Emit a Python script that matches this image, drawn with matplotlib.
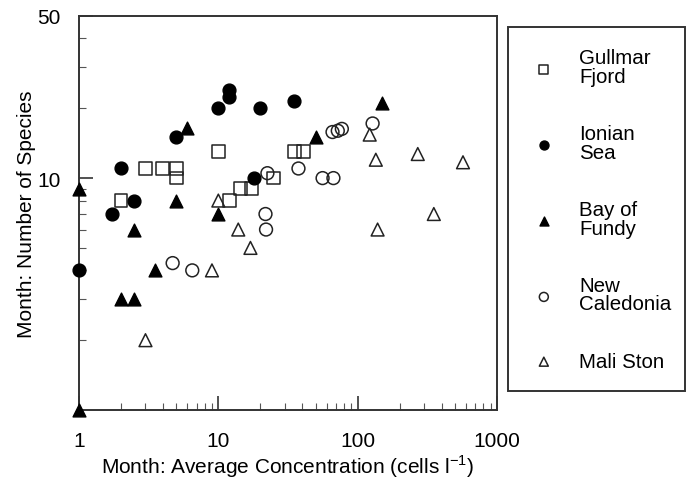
import matplotlib
matplotlib.use("Agg")
from matplotlib import pyplot as plt
from matplotlib.patches import Rectangle
from matplotlib.ticker import FixedLocator, NullFormatter

plt.rcParams['font.family'] = ['Liberation Sans', 'DejaVu Sans']

# Gullmar Fjord (open squares)
gullmar_x = [2, 3, 4, 5, 5, 10, 12, 14.4, 17.3, 25, 35, 41]
gullmar_y = [8, 11, 11, 11, 10, 13, 8, 9, 9, 10, 13, 13]

# Ionian Sea (filled circles)
ionian_x = [1, 1.73, 2, 2.5, 5, 10, 12, 12, 20, 18, 35]
ionian_y = [4, 7, 11, 8, 15, 20, 24, 22.3, 20, 10, 21.5]

# Bay of Fundy (filled triangles)
fundy_x = [1, 1, 2, 2.5, 2.5, 3.5, 5, 6, 10, 50, 150]
fundy_y = [9, 1, 3, 3, 6, 4, 8, 16.5, 7, 15, 21]

# New Caledonia (open circles)
caledonia_x = [4.7, 6.5, 22.5, 37.6, 56, 67, 66, 72, 77, 128, 21.8, 22]
caledonia_y = [4.3, 4, 10.5, 11, 10, 10, 15.8, 16, 16.3, 17.2, 7, 6]

# Mali Ston (open triangles)
mali_x = [3, 9, 10, 13.9, 17, 122, 135, 270, 570, 352, 139]
mali_y = [2, 4, 8, 6, 5, 15.4, 12, 12.7, 11.7, 7, 6]

fs = 15
leg_fs = 14.8

fig = plt.figure(figsize=(6.89, 4.81), dpi=100)
ax = fig.add_axes([79 / 689, 1 - 411 / 481, 418 / 689, 394 / 481])

ms = 85
ax.scatter(gullmar_x, gullmar_y, s=ms, marker='s', facecolors='none',
           edgecolors='#222222', linewidths=1.1, label='Gullmar\nFjord', clip_on=False, zorder=3)
ax.scatter(ionian_x, ionian_y, s=ms, marker='o', facecolors='black',
           edgecolors='black', linewidths=1.0, label='Ionian\nSea', clip_on=False, zorder=3)
ax.scatter(fundy_x, fundy_y, s=ms, marker='^', facecolors='black',
           edgecolors='black', linewidths=1.0, label='Bay of\nFundy', clip_on=False, zorder=3)
ax.scatter(caledonia_x, caledonia_y, s=ms, marker='o', facecolors='none',
           edgecolors='#222222', linewidths=1.1, label='New\nCaledonia', clip_on=False, zorder=3)
ax.scatter(mali_x, mali_y, s=ms, marker='^', facecolors='none',
           edgecolors='#222222', linewidths=1.1, label='Mali Ston', clip_on=False, zorder=3)

ax.set_xscale('log')
ax.set_yscale('log')
ax.set_xlim(1, 1000)
ax.set_ylim(1, 50)

ax.set_xticks([1, 10, 100, 1000])
ax.set_xticklabels(['1', '10', '100', '1000'])
ax.set_yticks([10, 50])
ax.set_yticklabels(['10', '50'])
ax.yaxis.set_minor_locator(FixedLocator([2, 3, 4, 5, 6, 7, 8, 9, 20, 30, 40]))
ax.yaxis.set_minor_formatter(NullFormatter())
ax.xaxis.set_minor_formatter(NullFormatter())

ax.tick_params(axis='both', which='major', direction='in', length=10, width=1.2,
               labelsize=fs, color='#333333')
ax.tick_params(axis='x', which='major', pad=15)
ax.tick_params(axis='y', which='major', pad=13)
ax.tick_params(axis='both', which='minor', direction='in', length=5, width=0.8,
               color='#555555')
ax.tick_params(axis='x', which='both', top=False)
ax.tick_params(axis='y', which='both', right=False)

for sp in ax.spines.values():
    sp.set_color('#333333')
    sp.set_linewidth(1.4)

ax.set_xlabel('Month: Average Concentration (cells l$^{\\mathregular{-1}}$)', fontsize=fs, labelpad=1.5)
ax.set_ylabel('Month: Number of Species', fontsize=fs, labelpad=1)

# legend box
fig.patches.append(Rectangle((508 / 689, 1 - 392 / 481), 177 / 689, 364 / 481,
                             transform=fig.transFigure, fill=False,
                             edgecolor='#333333', linewidth=1.4))
leg = fig.legend(loc='upper left', bbox_to_anchor=(513 / 689, 1 - 31 / 481),
                 frameon=False, fontsize=leg_fs, markerscale=0.7,
                 labelspacing=1.88, handletextpad=1.12, handlelength=1.2)
for t in leg.get_texts():
    t.set_linespacing(0.95)

fig.savefig('out.png', dpi=100)
